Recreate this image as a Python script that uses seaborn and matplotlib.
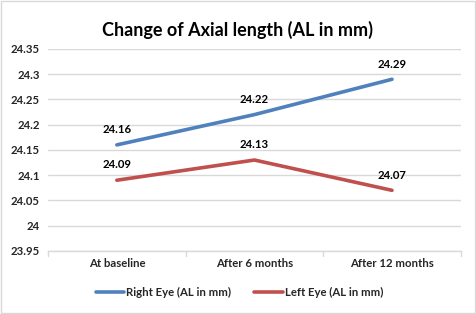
import matplotlib
matplotlib.use("Agg")
import matplotlib.pyplot as plt
import seaborn as sns
import pandas as pd
from matplotlib.patches import Rectangle

categories = ["At baseline", "After 6 months", "After 12 months"]
right_eye = [24.16, 24.22, 24.29]
left_eye = [24.09, 24.13, 24.07]
series_names = ["Right Eye (AL in mm)", "Left Eye (AL in mm)"]
y_ticks = [23.95, 24, 24.05, 24.1, 24.15, 24.2, 24.25, 24.3, 24.35]
y_tick_labels = ["23.95", "24", "24.05", "24.1", "24.15", "24.2", "24.25", "24.3", "24.35"]

df = pd.DataFrame({
    "x": list(range(len(categories))) * 2,
    "value": right_eye + left_eye,
    "series": [series_names[0]] * 3 + [series_names[1]] * 3,
})

sns.set_theme(style="white")
plt.rcParams["font.family"] = ["Lato", "DejaVu Sans"]
plt.rcParams["font.weight"] = "bold"

fig = plt.figure(figsize=(4.76, 3.14), dpi=100)
ax = fig.add_axes([0.101, 0.201, 0.867, 0.643])

palette = {series_names[0]: "#4F81BD", series_names[1]: "#C0504D"}
sns.lineplot(data=df, x="x", y="value", hue="series", palette=palette,
             linewidth=2.6, ax=ax, legend=False)

for vals in (right_eye, left_eye):
    for i, v in enumerate(vals):
        ax.annotate(f"{v:.2f}", (i, v), xytext=(0, 7), textcoords="offset points",
                    ha="center", va="bottom", fontsize=8.2, fontweight="bold",
                    color="#000000")

ax.set_xlim(-0.5, 2.5)
ax.set_ylim(23.95, 24.35)
ax.set_yticks(y_ticks)
ax.set_yticklabels(y_tick_labels, fontsize=8.2, fontweight="bold")
ax.set_xticks(range(len(categories)))
ax.set_xticklabels(categories, fontsize=8.2, fontweight="bold")
ax.tick_params(axis="x", length=0, pad=5)
ax.tick_params(axis="y", length=0, pad=6)
ax.set_xlabel("")
ax.set_ylabel("")
ax.grid(axis="y", color="#D9D9D9", linewidth=1)
ax.set_axisbelow(True)
for s in ["top", "right", "left"]:
    ax.spines[s].set_visible(False)
ax.spines["bottom"].set_color("#D9D9D9")
ax.spines["bottom"].set_linewidth(1)
# category boundary tick marks
for xb in [-0.5, 0.5, 1.5, 2.5]:
    ax.plot([xb, xb], [0, -0.025], transform=ax.get_xaxis_transform(),
            color="#D9D9D9", linewidth=1, clip_on=False)

fig.text(0.5, 0.905, "Change of Axial length (AL in mm)", ha="center", va="center",
         fontsize=13, fontweight="bold", color="#000000")

handles = [plt.Line2D([], [], color=palette[n], linewidth=2.6) for n in series_names]
fig.legend(handles, series_names, loc="center", bbox_to_anchor=(0.503, 0.067), ncol=2,
           frameon=False, prop={"size": 8.2, "weight": "bold"}, handlelength=2.5,
           handletextpad=0.2, columnspacing=2.0)

fig.patches.append(Rectangle((0.002, 0.003), 0.995, 0.993, transform=fig.transFigure,
                             fill=False, edgecolor="#D9D9D9", linewidth=1))

fig.savefig("out.png", dpi=100)
